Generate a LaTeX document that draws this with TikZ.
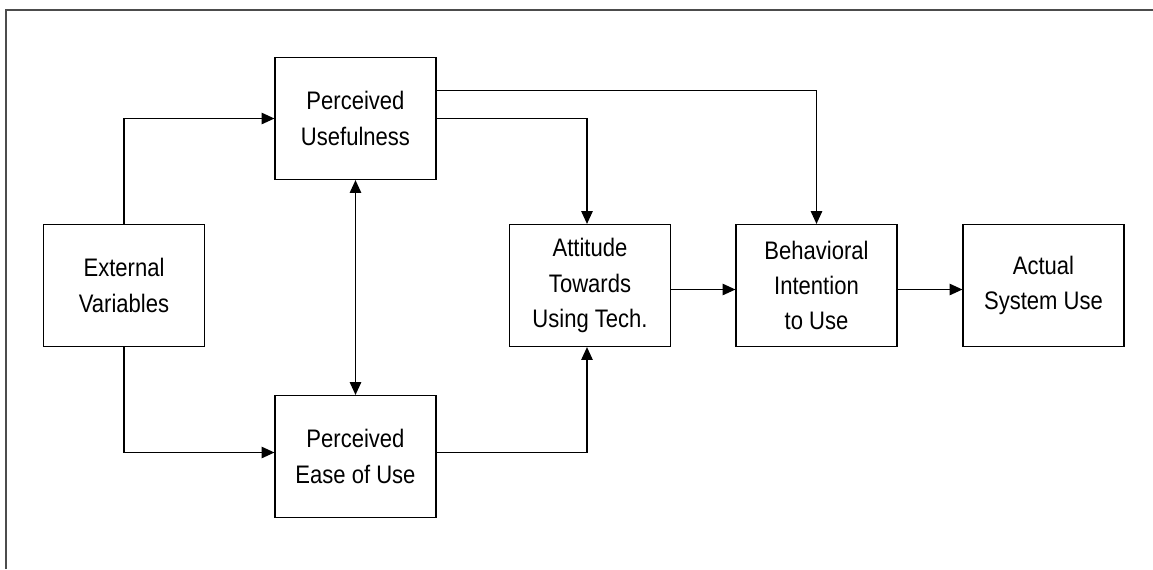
\documentclass[tikz,border=0pt]{standalone}
\usepackage{fontspec}
\setmainfont{Liberation Sans}[FakeStretch=0.87]
\usetikzlibrary{arrows.meta}

\begin{document}
\begin{tikzpicture}[
				x = 0.75pt, y = -0.75pt, % one unit per pixel
				> = {Triangle[length=9.5pt,width=8.5pt]}, % arrow head style
				line width = 0.9pt, % line style
				block/.style = {draw, minimum width=120.75pt, minimum height=91.5pt,
					inner sep=0pt, align=center, font=\fontsize{19}{26.5}\selectfont}
				]
				
				\useasboundingbox (0,0) rectangle (1153,569);
				\draw[black!70, line width=1.5pt] (6,569) -- (6,10) -- (1153,10);
				
				\node[block] (EV) at (124,285.5) {External\\Variables};
				\node[block] (PU) at (355.5,118.5) {Perceived\\Usefulness};
				\node[block] (PEU) at (355.5,456.5) {Perceived\\Ease of Use};
				\node[block] (AT) at (590,285.5) {Attitude\\Towards\\Using Tech.};
				\node[block] (BI) at (816.5,285.5) {Behavioral\\Intention\\to Use};
				\node[block] (ASU) at (1043.5,285.5) {Actual\\System Use};
				
				\draw[->] (EV.north) |- (PU.west);
				\draw[->] (EV.south) |- ([yshift=3pt]PEU.west);
				\draw[<->] (PU.south) -- (PEU.north);
				\draw[->] (PU.east) -| ([xshift=-2.25pt]AT.north);
				\draw[->] (PU.east) ++(0,-28) -| (BI.north);
				\draw[->] ([yshift=3pt]PEU.east) -| ([xshift=-2.25pt]AT.south);
				\draw[->] ([yshift=-3pt]AT.east) -- ([yshift=-3pt]BI.west);
				\draw[->] ([yshift=-3pt]BI.east) -- ([yshift=-3pt]ASU.west);
			\end{tikzpicture}
\end{document}
